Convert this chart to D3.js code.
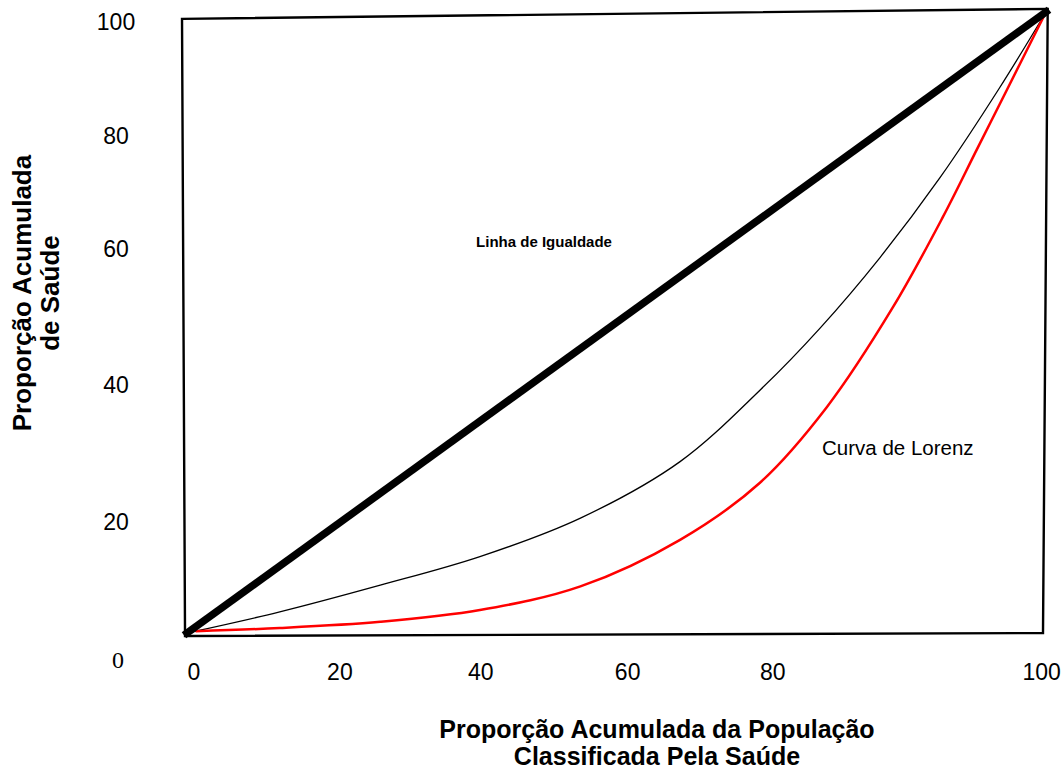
<!DOCTYPE html>
<html>
<head>
<meta charset="utf-8">
<script src="https://cdn.jsdelivr.net/npm/d3@7"></script>
<style>
  body { margin: 0; background: #fff; }
  text { font-family: Arial, "Liberation Sans", sans-serif; fill: #000; }
</style>
</head>
<body>
<div id="chart"></div>
<script>
// cumulative population share (x) and health share (y), in percent
const equalityX = [0, 100];
const equalityY = [0, 100];

const thinX = [0, 10.8, 22.5, 34.1, 45.8, 57.4, 66.7, 73.7, 80.7, 87.7, 94.6, 100];
const thinY = [0, 3.4, 7.7, 12.3, 18.5, 27.6, 39.1, 49.1, 60.5, 73.4, 87.8, 100];

const lorenzX = [1, 10.8, 22.5, 34.1, 45.8, 57.4, 66.7, 74.5, 82.2, 88.0, 92.0, 95.5, 100];
const lorenzY = [0.3, 0.8, 1.8, 3.7, 7.5, 15.0, 24.2, 36.4, 52.5, 67.0, 78.0, 87.6, 100];

// tick labels (the drawing spaces them by hand, not evenly)
const xTicks = [0, 20, 40, 60, 80, 100];
const xTickPos = [0.8, 17.8, 34.2, 51.3, 68.2, 99.5];
const yTicks = [20, 40, 60, 80, 100];
const yTickPos = [17.9, 40, 61.9, 80.1, 98.4];

// the hand-drawn frame, corners in data units
const frameX = [-0.58, 100.2, 99.65, -0.23];
const frameY = [98.9, 100.5, 0, -0.48];

const width = 1064, height = 772;

const svg = d3.select("#chart").append("svg")
  .attr("width", width)
  .attr("height", height);

const x = d3.scaleLinear().domain([0, 100]).range([187, 1046]);
const y = d3.scaleLinear().domain([0, 100]).range([633, 12]);

// frame
const framePts = frameX.map((d, i) => [x(d), y(frameY[i])]);
svg.append("path")
  .attr("d", d3.line().curve(d3.curveLinearClosed)(framePts))
  .attr("fill", "none")
  .attr("stroke", "#000")
  .attr("stroke-width", 2.4);

const line = d3.line()
  .x(d => x(d[0]))
  .y(d => y(d[1]));

const smooth = d3.line()
  .x(d => x(d[0]))
  .y(d => y(d[1]))
  .curve(d3.curveCatmullRom.alpha(0.5));

svg.append("path")
  .attr("d", smooth(thinX.map((d, i) => [d, thinY[i]])))
  .attr("fill", "none")
  .attr("stroke", "#000")
  .attr("stroke-width", 1.3);

svg.append("path")
  .attr("d", smooth(lorenzX.map((d, i) => [d, lorenzY[i]])))
  .attr("fill", "none")
  .attr("stroke", "#ff0000")
  .attr("stroke-width", 2.5);

svg.append("path")
  .attr("d", line(equalityX.map((d, i) => [d, equalityY[i]])))
  .attr("fill", "none")
  .attr("stroke", "#000")
  .attr("stroke-width", 7.5)
  .attr("stroke-linecap", "square");

// tick labels
svg.selectAll(".xtick")
  .data(xTicks)
  .enter().append("text")
  .attr("class", "xtick")
  .attr("x", (d, i) => x(xTickPos[i]))
  .attr("y", 672)
  .attr("text-anchor", "middle")
  .attr("dominant-baseline", "central")
  .style("font-size", "23px")
  .text(d => d);

svg.selectAll(".ytick")
  .data(yTicks)
  .enter().append("text")
  .attr("class", "ytick")
  .attr("x", 116)
  .attr("y", (d, i) => y(yTickPos[i]))
  .attr("text-anchor", "middle")
  .attr("dominant-baseline", "central")
  .style("font-size", "23px")
  .text(d => d);

// the lone origin label, set in a serif face
svg.append("text")
  .attr("x", 118)
  .attr("y", 660)
  .attr("text-anchor", "middle")
  .attr("dominant-baseline", "central")
  .style("font-family", "'Liberation Serif', 'Times New Roman', serif")
  .style("font-size", "24px")
  .text("0");

// annotations
svg.append("text")
  .attr("x", 544)
  .attr("y", 241)
  .attr("text-anchor", "middle")
  .attr("dominant-baseline", "central")
  .style("font-size", "15px")
  .style("font-weight", "bold")
  .text("Linha de Igualdade");

svg.append("text")
  .attr("x", 822)
  .attr("y", 447)
  .attr("dominant-baseline", "central")
  .style("font-size", "20.5px")
  .text("Curva de Lorenz");

// axis titles
const xTitle = svg.append("text")
  .attr("text-anchor", "middle")
  .style("font-size", "25px")
  .style("font-weight", "bold");
xTitle.append("tspan").attr("x", 657).attr("y", 738).text("Proporção Acumulada da População");
xTitle.append("tspan").attr("x", 657).attr("y", 765).text("Classificada Pela Saúde");

const yTitle = svg.append("text")
  .attr("transform", "translate(0,293) rotate(-90)")
  .attr("text-anchor", "middle")
  .style("font-size", "26px")
  .style("font-weight", "bold");
yTitle.append("tspan").attr("x", 0).attr("y", 31).text("Proporção Acumulada");
yTitle.append("tspan").attr("x", 0).attr("y", 59).text("de Saúde");
</script>
</body>
</html>
